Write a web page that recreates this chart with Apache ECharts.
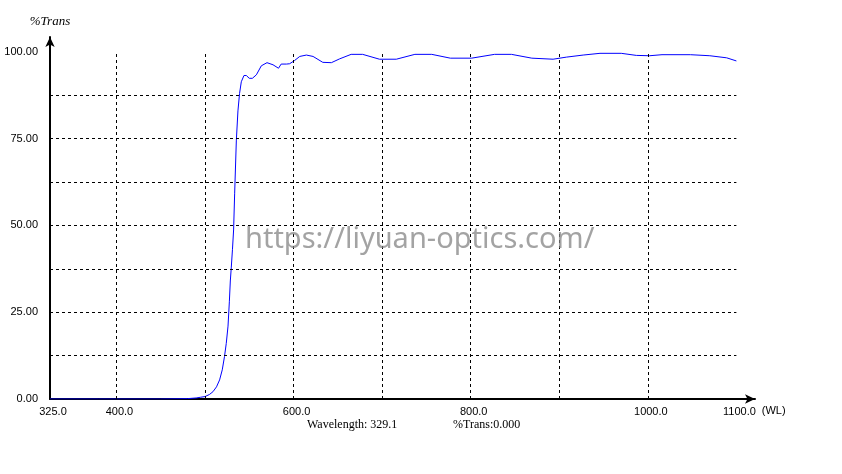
<!DOCTYPE html>
<html><head><meta charset="utf-8">
<script src="https://cdn.jsdelivr.net/npm/echarts@6/dist/echarts.min.js"></script>
<style>html,body{margin:0;padding:0;background:#fff}#c{width:842px;height:474px}</style>
</head><body><div id="c"></div>
<script>
var wavelengths = [325,380,400,450,480,490,495,500,505,509,513,516.5,519.5,522,524,526,527.5,528.6,529.7,531,532.3,533.5,535.4,537.2,539,541,544,546.7,550,553.5,558,563.6,570,576.8,583,586,592,595.6,601,607,614.5,622,633,642.7,652,665,678,697,716,737,756,777,801,827,846,869,893,908,927,946,970,987,1002,1016,1048,1070,1089,1100];
var trans = [0,0,0,0,0.1,0.3,0.5,0.7,1.3,2.1,3.5,5.5,8.4,12.2,16,21,28,34,38,43,48.7,59.3,74.6,83,88,91.4,93.2,93.2,92.4,92.4,93.4,96,96.9,96.3,95.3,96.5,96.5,96.6,97.5,98.7,99.1,98.7,97.0,96.9,98.0,99.3,99.3,97.9,97.9,99.3,99.3,98.2,98.2,99.3,99.3,98.2,97.9,98.5,99.1,99.6,99.6,99.0,98.9,99.2,99.2,98.9,98.3,97.4];
var xTickLabels = [325,400,600,800,1000,1100];
var yTickLabels = [0,25,50,75,100];
var xGridValues = [400,500,600,700,800,900,1000];
var yGridValues = [12.5,25,37.5,50,62.5,75,87.5];
var xRange = [325,1100];
var yRange = [0,100];

var gridLines = [];
xGridValues.forEach(function(v){ gridLines.push([{coord:[v,yRange[0]]},{coord:[v,yRange[1]]}]); });
yGridValues.forEach(function(v){ gridLines.push([{coord:[xRange[0],v]},{coord:[xRange[1],v]}]); });

var chart = echarts.init(document.getElementById('c'));
chart.setOption({
  animation:false,
  backgroundColor:'#fff',
  grid:{left:50,right:87,top:37,bottom:75},
  xAxis:{type:'value',min:325,max:1121,
    name:'(WL)',nameLocation:'end',nameGap:6,
    nameTextStyle:{fontFamily:'Liberation Sans',fontSize:11,color:'#000',verticalAlign:'top',padding:[6,0,0,0]},
    axisLine:{lineStyle:{color:'#000',width:2},symbol:['none','arrow'],symbolSize:[7,10]},
    axisTick:{show:false},
    splitLine:{show:false},
    axisLabel:{customValues:xTickLabels,margin:7,padding:[0,0,0,6],color:'#000',fontFamily:'Liberation Sans',fontSize:11,
      formatter:function(v){return v.toFixed(1);}}
  },
  yAxis:{type:'value',min:0,max:104.3,
    name:'%Trans',nameLocation:'end',nameGap:9,
    nameTextStyle:{fontFamily:'Liberation Serif',fontStyle:'italic',fontSize:13,color:'#000',align:'center'},
    axisLine:{show:true,lineStyle:{color:'#000',width:2},symbol:['none','arrow'],symbolSize:[7,10]},
    axisTick:{show:false},
    splitLine:{show:false},
    axisLabel:{customValues:yTickLabels,margin:12,color:'#000',fontFamily:'Liberation Sans',fontSize:11,
      formatter:function(v){return v.toFixed(2);}}
  },
  graphic:[
    {type:'text',left:307,top:419,style:{text:'Wavelength: 329.1',fontFamily:'Liberation Serif',fontSize:12,fill:'#000'}},
    {type:'text',left:453,top:419,style:{text:'%Trans:0.000',fontFamily:'Liberation Serif',fontSize:12,fill:'#000'}},
    {type:'text',left:245,top:225,z:100,style:{text:'https://liyuan-optics.com/',fontFamily:'Noto Sans',fontSize:29,fill:'rgba(128,128,128,0.72)'}}
  ],
  series:[
    {type:'line',data:[],silent:true,
      markLine:{silent:true,symbol:['none','none'],label:{show:false},
        lineStyle:{color:'#000',type:[3,3],width:1},emphasis:{disabled:true},data:gridLines}},
    {type:'line',data:wavelengths.map(function(w,i){return [w,trans[i]];}),
      showSymbol:false,symbol:'none',lineStyle:{color:'#0000ff',width:1},silent:true}
  ]
});
</script></body></html>
